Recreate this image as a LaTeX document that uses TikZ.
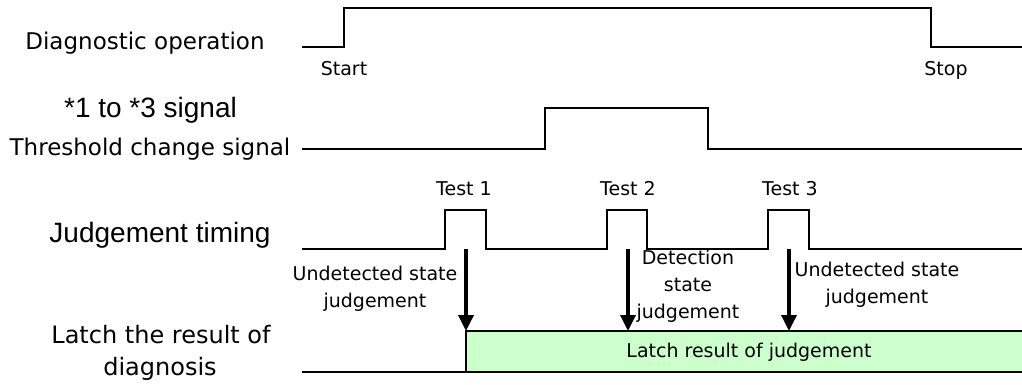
\documentclass[tikz,border=0pt]{standalone}
\usepackage{fontspec}
\setmainfont{DejaVu Sans}
\newfontfamily\arialfont{Liberation Sans}
\usetikzlibrary{arrows.meta}
\definecolor{latchgreen}{HTML}{CCFFCC}
\begin{document}
\begin{tikzpicture}[x=1pt,y=-1pt,
  sig/.style={line width=2pt, line join=miter},
  big/.style={font=\fontsize{23}{27}\selectfont, inner sep=0pt},
  bigarial/.style={font=\arialfont\fontsize{28}{32}\selectfont, inner sep=0pt},
  small/.style={font=\fontsize{19}{27}\selectfont, inner sep=0pt, align=center},
  judge/.style={line width=3.5pt, -{Triangle[width=15pt,length=16pt]}},
]
\useasboundingbox (0,0) rectangle (1022,385);

% left labels
\node[big] (lbl1) at (145,43) {Diagnostic operation};
\node[bigarial] (lbl2a) at (150.5,110) {*1 to *3 signal};
\node[big] (lbl2b) at (150,149) {Threshold change signal};
\node[bigarial] (lbl3) at (160,235) {Judgement timing};
\node[big, font=\fontsize{24}{34}\selectfont] (lbl4a) at (161,335) {Latch the result of};
\node[big, font=\fontsize{24}{34}\selectfont] (lbl4b) at (160,369) {diagnosis};

% Diagnostic operation
\draw[sig] (302,47) -- (344,47) -- (344,8) -- (931,8) -- (931,47) -- (1022,47);
\node[small] (start) at (344,69) {Start};
\node[small] (stop) at (946,70) {Stop};

% Threshold change signal
\draw[sig] (302,149) -- (545,149) -- (545,108) -- (708,108) -- (708,149) -- (1022,149);

% Judgement timing
\draw[sig] (302,249) -- (445,249) -- (445,210) -- (486,210) -- (486,249)
  -- (607,249) -- (607,210) -- (647,210) -- (647,249)
  -- (768,249) -- (768,210) -- (809,210) -- (809,249) -- (1022,249);
\node[small] (t1) at (464,189) {Test 1};
\node[small] (t2) at (628,189) {Test 2};
\node[small] (t3) at (790,189) {Test 3};

% Latch
\fill[latchgreen] (466,331) rectangle (1022,372);
\draw[line width=1.5pt] (466,372) -- (466,331) -- (1022,331);
\draw[sig] (302,372) -- (1022,372);
\node[small] (latch) at (749,352) {Latch result of judgement};

% judgement arrows
\coordinate (a1s) at (466,249); \coordinate (a1e) at (466,331);
\coordinate (a2s) at (628,249); \coordinate (a2e) at (628,331);
\coordinate (a3s) at (789,249); \coordinate (a3e) at (789,331);
\draw[judge] (a1s) -- (a1e);
\draw[judge] (a2s) -- (a2e);
\draw[judge] (a3s) -- (a3e);

\node[small] (j1) at (375,289) {Undetected state\\judgement};
\node[small] (j2) at (688,286) {Detection\\state\\judgement};
\node[small] (j3) at (877,285) {Undetected state\\judgement};
\end{tikzpicture}
\end{document}
